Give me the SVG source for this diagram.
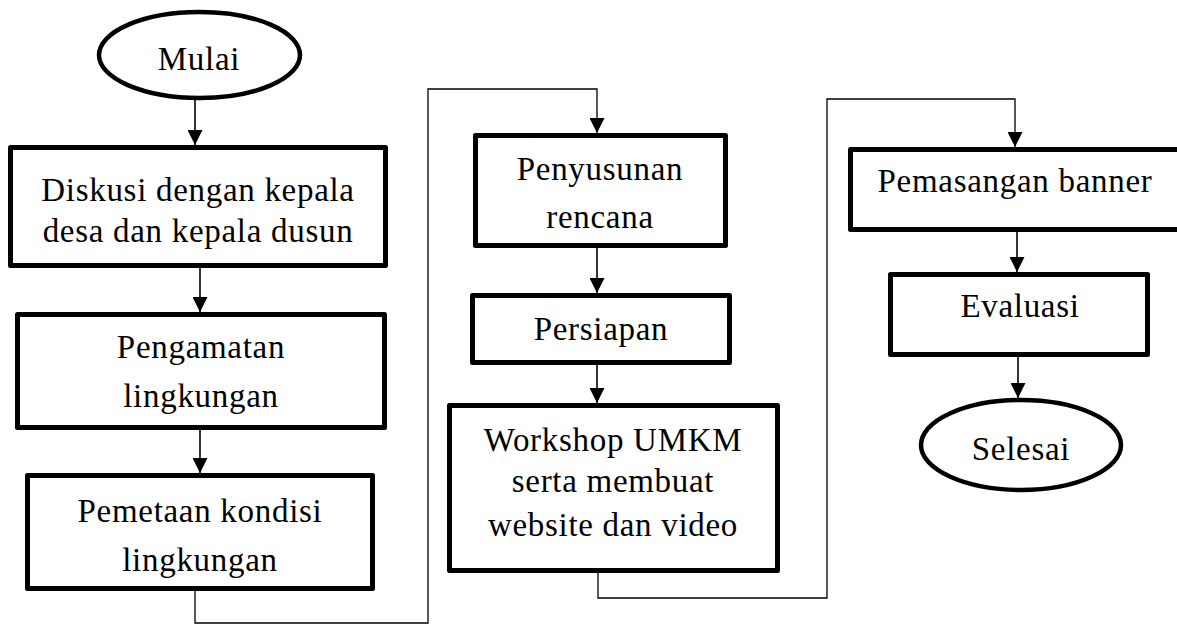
<svg xmlns="http://www.w3.org/2000/svg" width="1177" height="625" viewBox="0 0 1177 625">
<style>
.box{fill:#fff;stroke:#000;stroke-width:5;stroke-linejoin:round}
.term{fill:#fff;stroke:#000;stroke-width:4.5}
.t{font-family:"Liberation Serif","Times New Roman",serif;font-size:33px;fill:#000;text-anchor:middle;letter-spacing:0.7px}
.arr{fill:none;stroke:#000;stroke-width:1.6;marker-end:url(#ah)}
.route{fill:none;stroke:#000;stroke-width:1.3;marker-end:url(#ah)}
</style>
<defs>
<marker id="ah" markerUnits="userSpaceOnUse" markerWidth="15" markerHeight="15" refX="15" refY="7.5" orient="auto">
<path d="M0,0 L15,7.5 L0,15 z" fill="#000"/>
</marker>
</defs>
<rect width="1177" height="625" fill="#fff"/>
<g id="connectors">
<line class="arr" x1="195" y1="100" x2="195" y2="145"/>
<line class="arr" x1="200" y1="268" x2="200" y2="312"/>
<line class="arr" x1="200" y1="430" x2="200" y2="473"/>
<polyline class="route" points="195,591 195,623 428,623 428,89 597,89 597,133"/>
<line class="arr" x1="597" y1="248" x2="597" y2="293"/>
<line class="arr" x1="597" y1="365" x2="597" y2="403"/>
<polyline class="route" points="598,573 598,598 827,598 827,99 1015,99 1015,147"/>
<line class="arr" x1="1017" y1="232" x2="1017" y2="272"/>
<line class="arr" x1="1018" y1="357" x2="1018" y2="398"/>
</g>
<g id="mulai">
<ellipse class="term" cx="199.5" cy="55" rx="100.5" ry="43"/>
<text class="t" x="199" y="70">Mulai</text>
</g>
<g id="diskusi">
<rect class="box" x="10.5" y="147.5" width="375" height="118"/>
<text class="t" x="198" y="201">Diskusi dengan kepala</text>
<text class="t" x="198" y="242">desa dan kepala dusun</text>
</g>
<g id="pengamatan">
<rect class="box" x="17.5" y="314.5" width="367" height="113"/>
<text class="t" x="201" y="358">Pengamatan</text>
<text class="t" x="201" y="407">lingkungan</text>
</g>
<g id="pemetaan">
<rect class="box" x="27.5" y="475.5" width="345" height="113"/>
<text class="t" x="200" y="522">Pemetaan kondisi</text>
<text class="t" x="200" y="571">lingkungan</text>
</g>
<g id="penyusunan">
<rect class="box" x="475.5" y="135.5" width="250" height="110"/>
<text class="t" x="600" y="180">Penyusunan</text>
<text class="t" x="600" y="228">rencana</text>
</g>
<g id="persiapan">
<rect class="box" x="472.5" y="295.5" width="257" height="67"/>
<text class="t" x="601" y="340">Persiapan</text>
</g>
<g id="workshop">
<rect class="box" x="449.5" y="405.5" width="328" height="165"/>
<text class="t" x="613" y="451">Workshop UMKM</text>
<text class="t" x="613" y="492">serta membuat</text>
<text class="t" x="613" y="536">website dan video</text>
</g>
<g id="pemasangan">
<rect class="box" x="850.5" y="149.5" width="329" height="80"/>
<text class="t" x="1015" y="192">Pemasangan banner</text>
</g>
<g id="evaluasi">
<rect class="box" x="890.5" y="274.5" width="257" height="80"/>
<text class="t" x="1020" y="317">Evaluasi</text>
</g>
<g id="selesai">
<ellipse class="term" cx="1021" cy="445" rx="100" ry="45"/>
<text class="t" x="1021" y="460">Selesai</text>
</g>
</svg>
